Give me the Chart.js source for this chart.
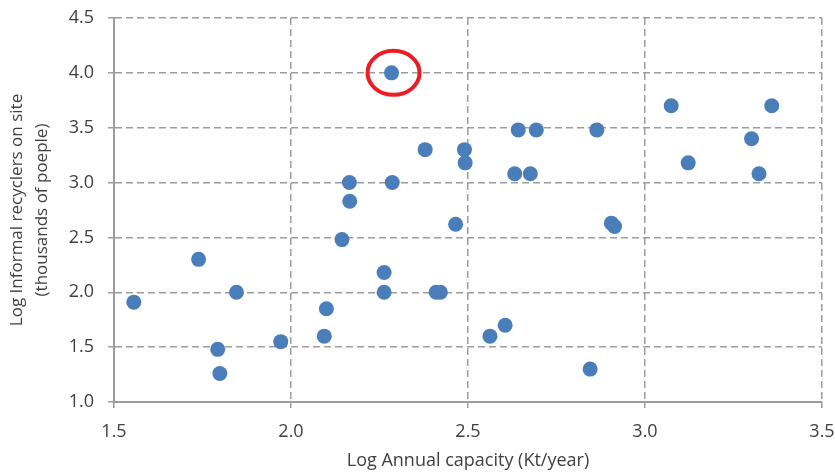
<!DOCTYPE html>
<html>
<head>
<meta charset="utf-8">
<script src="https://cdn.jsdelivr.net/npm/chart.js@4/dist/chart.umd.min.js"></script>
<style>
  html, body { margin: 0; padding: 0; background: #ffffff; }
  #wrap { width: 835px; height: 475px; position: relative; }
</style>
</head>
<body>
<div id="wrap"><canvas id="chart"></canvas></div>
<script>
// Log annual capacity (x) vs log informal recyclers on site (y)
const capacityLog = [
  1.556, 1.739, 1.846, 1.793, 1.799, 1.971, 2.284, 2.165, 2.166, 2.286,
  2.379, 2.490, 2.492, 2.642, 2.693, 2.632, 2.676, 2.465, 2.144, 2.263,
  2.263, 2.100, 2.094, 2.410, 2.422, 2.562, 2.605, 2.845, 2.864, 3.074,
  3.358, 3.301, 3.122, 3.322, 2.905, 2.914,
];
const recyclersLog = [
  1.91, 2.30, 2.00, 1.48, 1.26, 1.55, 4.00, 3.00, 2.83, 3.00,
  3.30, 3.30, 3.18, 3.48, 3.48, 3.08, 3.08, 2.62, 2.48, 2.18,
  2.00, 1.85, 1.60, 2.00, 2.00, 1.60, 1.70, 1.30, 3.48, 3.70,
  3.70, 3.40, 3.18, 3.08, 2.63, 2.60,
];

// the outlier circled in red
const highlightIndex = 6;

const xTicks = [1.5, 2.0, 2.5, 3.0, 3.5];
const yTicks = [1.0, 1.5, 2.0, 2.5, 3.0, 3.5, 4.0, 4.5];

const xTitle = "Log Annual capacity (Kt/year)";
const yTitle = ["Log Informal recyclers on site", "(thousands of poeple)"];

const FONT = "'Open Sans', 'DejaVu Sans', sans-serif";
const GRID = "#9c9c9c";
const TEXT = "#404040";

const points = capacityLog.map((x, i) => ({ x, y: recyclersLog[i] }));

// Red ring around the highlighted point
const ringPlugin = {
  id: "ring",
  afterDatasetsDraw(chart) {
    const p = points[highlightIndex];
    const cx = chart.scales.x.getPixelForValue(p.x) + 2;
    const cy = chart.scales.y.getPixelForValue(p.y);
    const ctx = chart.ctx;
    ctx.save();
    ctx.strokeStyle = "#ed1c24";
    ctx.lineWidth = 4;
    ctx.beginPath();
    ctx.ellipse(cx, cy, 26, 22, 0, 0, Math.PI * 2);
    ctx.stroke();
    ctx.restore();
  },
};

const gridOpts = {
  color: GRID,
  lineWidth: 1.5,
  tickLength: 6,
  tickColor: GRID,
  tickWidth: 1.5,
};

new Chart(document.getElementById("chart"), {
  type: "scatter",
  data: {
    datasets: [
      {
        data: points,
        backgroundColor: "#4a7ebb",
        borderWidth: 0,
        pointRadius: 7.5,
        pointHoverRadius: 7.5,
      },
    ],
  },
  options: {
    responsive: true,
    maintainAspectRatio: false,
    animation: false,
    layout: { padding: { top: 18, right: 13, left: 0, bottom: 0 } },
    plugins: { legend: { display: false }, tooltip: { enabled: false } },
    scales: {
      x: {
        type: "linear",
        min: 1.5,
        max: 3.5,
        afterBuildTicks: (s) => { s.ticks = xTicks.map((v) => ({ value: v })); },
        afterFit: (s) => {
          s.height = 73;
          s.paddingLeft = 0;
          s.paddingRight = 0;
        },
        grid: gridOpts,
        border: { display: true, color: GRID, width: 2, dash: [7, 4] },
        ticks: {
          padding: 13,
          color: TEXT,
          font: { family: FONT, size: 18 },
          maxRotation: 0,
          callback: (v) => Number(v).toFixed(1),
        },
        title: {
          display: true,
          text: xTitle,
          color: TEXT,
          font: { family: FONT, size: 18 },
          padding: { top: 0, bottom: 3 },
        },
      },
      y: {
        type: "linear",
        min: 1.0,
        max: 4.5,
        afterBuildTicks: (s) => { s.ticks = yTicks.map((v) => ({ value: v })); },
        afterFit: (s) => {
          s.width = 114;
          s.paddingTop = 0;
          s.paddingBottom = 0;
        },
        grid: gridOpts,
        border: { display: true, color: GRID, width: 2, dash: [7, 4] },
        ticks: {
          padding: 14,
          color: TEXT,
          font: { family: FONT, size: 18 },
          callback: (v) => Number(v).toFixed(1),
        },
        title: {
          display: true,
          text: yTitle,
          color: TEXT,
          font: { family: FONT, size: 17, lineHeight: 1.5 },
          padding: { top: 4, bottom: 0 },
        },
      },
    },
  },
  plugins: [ringPlugin],
});
</script>
</body>
</html>
